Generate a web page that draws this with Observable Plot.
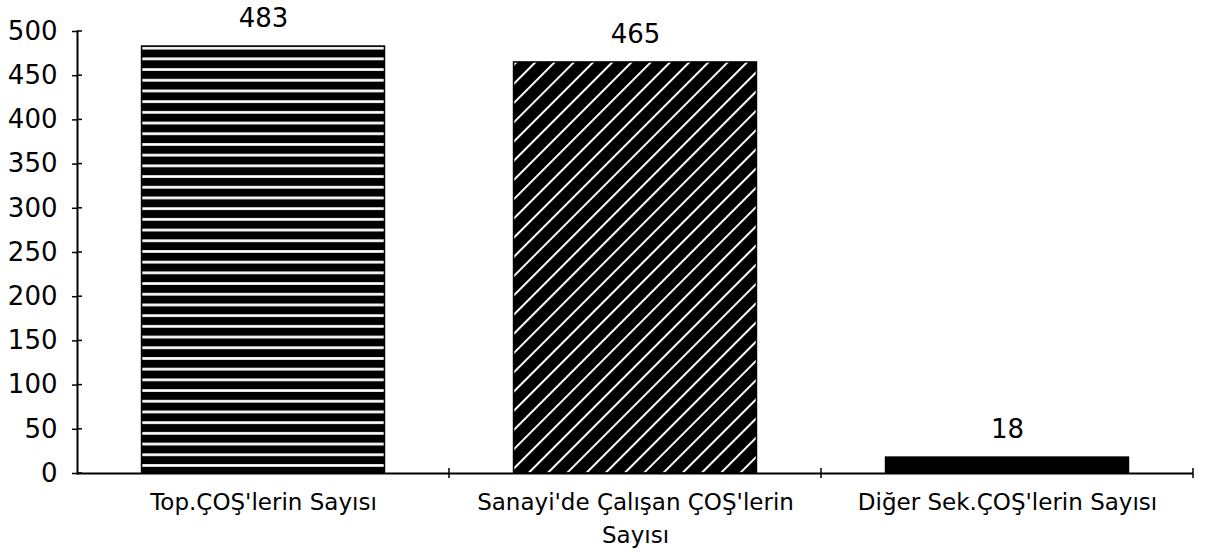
<!DOCTYPE html>
<html><head><meta charset="utf-8">
<script src="https://cdn.jsdelivr.net/npm/d3@7"></script>
<script src="https://cdn.jsdelivr.net/npm/@observablehq/plot@0.6"></script>
<style>body{margin:0;background:#fff}</style>
</head><body><div id="chart"></div>
<script>
const categories = ["Top.ÇOŞ'lerin Sayısı", "Sanayi'de Çalışan ÇOŞ'lerin\nSayısı", "Diğer Sek.ÇOŞ'lerin Sayısı"];
const values = [483, 465, 18];
const yTicks = [0, 50, 100, 150, 200, 250, 300, 350, 400, 450, 500];
const fills = ["url(#hstripe)", "url(#dstripe)", "#000"];
const data = categories.map((c, i) => ({category: c, value: values[i]}));

const chart = Plot.plot({
  width: 1211, height: 557,
  marginTop: 31, marginBottom: 84, marginLeft: 77, marginRight: 18,
  style: {fontFamily: "DejaVu Sans", background: "#fff", color: "#000"},
  x: {domain: categories, paddingInner: 0.347, paddingOuter: 0.1735, round: false, label: null},
  y: {domain: [0, 500], label: null},
  color: {domain: categories, range: fills},
  marks: [
    Plot.barY(data, {x: "category", y: "value", fill: "category", stroke: "#000", strokeWidth: 1.5}),
    Plot.text(data, {x: "category", y: "value", text: d => String(d.value), dy: -28, fontSize: 26, lineAnchor: "middle", fill: "#000"}),
    Plot.ruleY([0], {strokeWidth: 2}),
    Plot.axisY(yTicks, {tickSize: 5, tickPadding: 15, fontSize: 26, strokeWidth: 1.5, label: null}),
    Plot.frame({anchor: "left", strokeWidth: 2}),
    Plot.axisX({tickSize: 0, tickPadding: 14, fontSize: 23, lineHeight: 1.4, label: null})
  ]
});

const svg = d3.select(chart);
const defs = svg.insert("defs", ":first-child");
const hp = defs.append("pattern").attr("id", "hstripe").attr("patternUnits", "userSpaceOnUse")
  .attr("width", 10).attr("height", 10.7);
hp.append("rect").attr("width", 10).attr("height", 10.7).attr("fill", "#000");
hp.append("rect").attr("y", 4).attr("width", 10).attr("height", 2.7).attr("fill", "#fff");
const dp = defs.append("pattern").attr("id", "dstripe").attr("patternUnits", "userSpaceOnUse")
  .attr("width", 13.6).attr("height", 13.6).attr("patternTransform", "rotate(45)");
dp.append("rect").attr("width", 13.6).attr("height", 13.6).attr("fill", "#000");
dp.append("rect").attr("x", 0).attr("width", 2).attr("height", 13.6).attr("fill", "#fff");

// crossing ticks on both axes, placed with the library's scales
const xs = chart.scale("x"), ys = chart.scale("y");
const n = categories.length;
const step = xs.step ?? (xs.range[1] - xs.range[0]) / (n - 0.347 + 2 * 0.1735);
const bw = xs.bandwidth ?? step * (1 - 0.347);
const y0 = ys.apply(0);
const x0 = xs.range[0];
const g = svg.append("g").attr("stroke", "#000").attr("stroke-width", 1.5);
categories.forEach(c => {
  const bx = xs.apply(c) + bw / 2 + step / 2;
  g.append("line").attr("x1", bx).attr("x2", bx).attr("y1", y0 - 5).attr("y2", y0 + 5);
});
yTicks.forEach(t => {
  const ty = ys.apply(t);
  g.append("line").attr("x1", x0).attr("x2", x0 + 5).attr("y1", ty).attr("y2", ty);
});

document.getElementById("chart").appendChild(chart);
</script>
</body></html>
